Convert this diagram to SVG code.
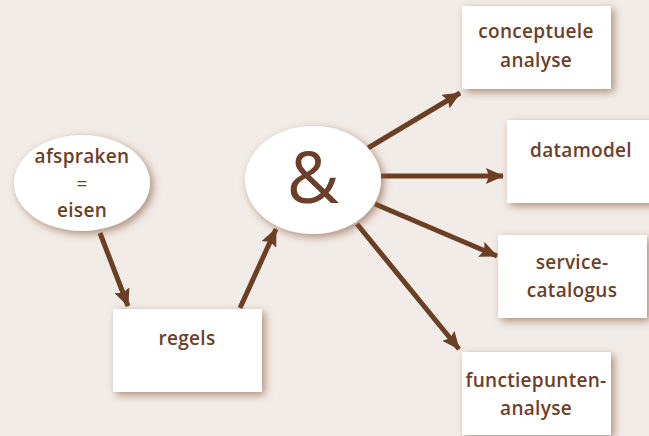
<svg xmlns="http://www.w3.org/2000/svg" width="649" height="436" viewBox="0 0 649 436">
<style>
.node{fill:#ffffff;filter:url(#sh)}
.t{font-family:"Open Sans","Liberation Sans",sans-serif;font-weight:600;font-size:19px;fill:#6b3f2a;text-anchor:middle;letter-spacing:0.3px}
.eq{font-weight:400}
.amp{font-family:"Open Sans","Liberation Sans",sans-serif;font-weight:400;font-size:72px;fill:#6b3f2a;text-anchor:middle}
.c{stroke:#6b3f24;stroke-width:5;fill:none;marker-end:url(#ah)}
</style>
<defs>
<filter id="sh" x="-30%" y="-30%" width="160%" height="160%">
<feDropShadow dx="3" dy="3" stdDeviation="4" flood-color="#8a5a3f" flood-opacity="0.65"/>
</filter>
<marker id="ah" markerUnits="userSpaceOnUse" markerWidth="20" markerHeight="16" refX="17" refY="8" orient="auto">
<path d="M0,0 L18,8 L0,16 L3,8 z" fill="#6b3f24"/>
</marker>
</defs>
<rect width="649" height="436" fill="#f2ece8"/>
<g id="connectors">
<line class="c" x1="100" y1="233" x2="128" y2="306"/>
<line class="c" x1="240" y1="308" x2="276" y2="229"/>
<line class="c" x1="368" y1="148" x2="460" y2="93"/>
<line class="c" x1="381" y1="176" x2="503" y2="176"/>
<line class="c" x1="375" y1="204" x2="497" y2="256"/>
<line class="c" x1="357" y1="224" x2="459" y2="349"/>
</g>
<g id="afspraken">
<ellipse class="node" cx="82" cy="183" rx="68" ry="48"/>
<text class="t" x="82" y="163">afspraken</text>
<text class="t eq" x="82" y="190">=</text>
<text class="t" x="82" y="217">eisen</text>
</g>
<g id="regels">
<rect class="node" x="113" y="309" width="149" height="83"/>
<text class="t" x="187" y="345">regels</text>
</g>
<g id="en">
<ellipse class="node" cx="313" cy="180" rx="68" ry="54"/>
<text class="amp" x="313" y="203">&amp;</text>
</g>
<g id="conceptuele-analyse">
<rect class="node" x="462" y="6" width="149" height="83"/>
<text class="t" x="536" y="38">conceptuele</text>
<text class="t" x="536" y="67">analyse</text>
</g>
<g id="datamodel">
<rect class="node" x="507" y="120" width="149" height="83"/>
<text class="t" x="581" y="157">datamodel</text>
</g>
<g id="service-catalogus">
<rect class="node" x="498" y="235" width="149" height="83"/>
<text class="t" x="572" y="269">service-</text>
<text class="t" x="572" y="297">catalogus</text>
</g>
<g id="functiepunten-analyse">
<rect class="node" x="462" y="352" width="149" height="83"/>
<text class="t" x="536" y="387">functiepunten-</text>
<text class="t" x="536" y="415">analyse</text>
</g>
</svg>
